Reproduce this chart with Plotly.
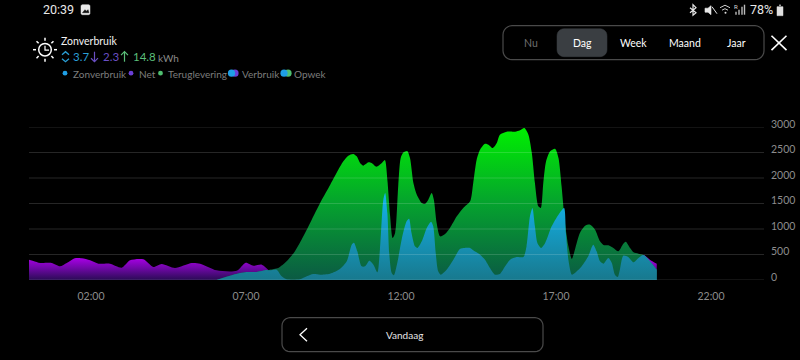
import math
import plotly.graph_objects as go

x_tick_vals = [2, 7, 12, 17, 22]
x_tick_text = ["02:00", "07:00", "12:00", "17:00", "22:00"]
y_tick_vals = [0, 500, 1000, 1500, 2000, 2500, 3000]

net_hours = [0.0, 0.14, 0.36, 0.73, 1.0, 1.22, 1.48, 1.70, 1.97, 2.24, 2.61, 2.99, 3.26, 3.69, 4.01, 4.28, 4.71,
             5.25, 5.52, 6.05, 6.70, 6.99, 7.24, 7.51, 7.77, 8.0, 19.6, 19.7, 19.82, 20.03, 20.25]
net_watts = [399, 373, 333, 333, 268, 333, 425, 425, 386, 320, 320, 242, 386, 405, 255, 314, 235,
             333, 320, 190, 183, 340, 281, 301, 170, 0, 0, 400, 490, 399, 320]

opwek_hours = [6.05, 6.59, 7.02, 7.34, 7.67, 7.77, 8.04, 8.31, 8.58, 8.85, 9.12, 9.39, 9.66, 9.92, 10.14, 10.30, 10.46, 10.57,
               10.68, 10.78, 10.95, 11.05, 11.21, 11.38, 11.48, 11.56, 11.65, 11.73, 11.81, 11.91, 11.99,
               12.08, 12.20, 12.29, 12.40, 12.51, 12.67, 12.77, 12.88, 12.99, 13.06, 13.15, 13.26, 13.42,
               13.58, 13.80, 14.01, 14.23, 14.33, 14.44, 14.55, 14.71, 14.82, 14.96, 15.09, 15.19, 15.41,
               15.68, 15.84, 15.98, 16.11, 16.22, 16.32, 16.43, 16.51, 16.59, 16.68, 16.81, 16.97, 17.08,
               17.18, 17.29, 17.40, 17.51, 17.61, 17.77, 17.94, 18.10, 18.26, 18.42, 18.53, 18.69, 18.85,
               19.01, 19.17, 19.25, 19.39, 19.50, 19.66, 19.82, 20.25]
opwek_watts = [0, 105, 157, 157, 196, 203, 235, 366, 562, 856, 1183, 1510, 1804, 2098, 2327, 2438, 2471, 2425,
               2294, 2242, 2307, 2294, 2222, 2294, 2353, 1967, 1248, 824, 922, 1837, 2392,
               2503, 2529, 2392, 1902, 1673, 1510, 1490, 1575, 1706, 1575, 1118, 856, 902,
               1020, 1248, 1412, 1542, 1902, 2360, 2556, 2673, 2654, 2588, 2686, 2850, 2908,
               2908, 2935, 2980, 2850, 2490, 1902, 1444, 1412, 1902, 2327, 2523, 2575, 2392,
               1837, 1118, 660, 412, 595, 922, 1065, 1085, 987, 758, 686, 680, 627,
               562, 712, 752, 627, 542, 516, 490, 203]

zon_hours = [6.05, 6.59, 7.02, 7.34, 7.67, 7.77, 7.99, 8.15, 8.31, 8.74, 8.96, 9.17, 9.39, 9.71, 10.03, 10.25, 10.41, 10.48,
             10.59, 10.73, 10.84, 10.98, 11.11, 11.24, 11.32, 11.43, 11.49, 11.56, 11.62, 11.70, 11.77, 11.88,
             12.02, 12.18, 12.26, 12.34, 12.45, 12.53, 12.67, 12.83, 12.97, 13.04, 13.12, 13.20, 13.28, 13.47,
             13.69, 13.90, 14.06, 14.23, 14.33, 14.55, 14.71, 14.87, 15.03, 15.19, 15.36, 15.52, 15.73, 15.95,
             16.05, 16.16, 16.24, 16.32, 16.40, 16.52, 16.65, 16.86, 17.08, 17.26, 17.32, 17.40, 17.51, 17.61,
             17.83, 18.04, 18.20, 18.31, 18.42, 18.53, 18.69, 18.80, 18.90, 18.99, 19.06, 19.17, 19.33, 19.50,
             19.66, 19.82, 20.25]
zon_watts = [0, 105, 157, 157, 196, 190, 203, 72, 13, 13, 72, 118, 105, 124, 216, 366, 693, 732,
             562, 268, 268, 379, 301, 150, 595, 1575, 1706, 1314, 529, 137, 92, 333,
             791, 1150, 1203, 922, 660, 627, 758, 1020, 1144, 1052, 529, 170, 105, 203,
             399, 610, 627, 627, 582, 497, 399, 235, 105, 118, 268, 399, 451, 451,
             660, 1248, 1412, 1052, 725, 627, 725, 1052, 1281, 1412, 922, 399, 105, 137,
             268, 464, 693, 562, 366, 320, 431, 333, 105, 59, 203, 477, 451, 346,
             431, 490, 203]

L, R, T, B = 29.0, 764.0, 127.3, 280.3


def px(v):
    return (v - L) / (R - L)


def py(v):
    return (B - v) / (B - T)


def area(xs, ys, stops, start, stop, name):
    return go.Scatter(
        x=xs, y=ys, name=name, mode="lines", hoverinfo="skip", showlegend=False,
        line=dict(shape="spline", smoothing=0.7, width=0, color="rgba(0,0,0,0)"),
        fill="tozeroy",
        fillgradient=dict(type="vertical", colorscale=stops, start=start, stop=stop),
    )


fig = go.Figure()
fig.add_trace(area(net_hours, net_watts,
                   [[0, "#2a0c55"], [0.5, "#6a08a0"], [1, "#a800e6"]], 0, 430, "Net"))
fig.add_trace(area(opwek_hours, opwek_watts,
                   [[0, "#0b5a44"], [0.5, "#05a22e"], [1, "#00f000"]], 0, 3000, "Opwek"))
fig.add_trace(area(zon_hours, zon_watts,
                   [[0, "#18798e"], [1, "#13b4ec"]], 0, 1700, "Zonverbruik"))

shapes = []
anns = []

for tick in y_tick_vals:
    shapes.append(dict(type="line", xref="paper", yref="y", x0=0, x1=1, y0=tick, y1=tick,
                       layer="above", line=dict(color="rgba(255,255,255,0.15)", width=1)))


def text(x, y, s, size=10, color="#ffffff", anchor="left", family="Lato"):
    anns.append(dict(xref="paper", yref="paper", x=px(x), y=py(y), text=s, showarrow=False,
                     xanchor=anchor, yanchor="middle", align=anchor, borderpad=0, xshift=0,
                     font=dict(family=family, size=size, color=color)))


def path(d, color="#ffffff", width=1.5, fill=None):
    shapes.append(dict(type="path", path=d, xref="paper", yref="paper",
                       line=dict(color=color, width=width),
                       fillcolor=fill if fill else "rgba(0,0,0,0)"))


def pts(seq, close=False):
    out = "M " + " L ".join(f"{px(a):.5f} {py(b):.5f}" for a, b in seq)
    return out + (" Z" if close else "")


def circle(cx, cy, r, color, line=None, width=1.0):
    shapes.append(dict(type="circle", xref="paper", yref="paper",
                       x0=px(cx - r), x1=px(cx + r), y0=py(cy + r), y1=py(cy - r),
                       fillcolor=color, line=dict(color=line or color, width=width if line else 0)))


def rrect(x0, y0, x1, y1, r, color, fill=None, width=1.2):
    n = 6
    seq = []
    for cx, cy, a0 in [(x1 - r, y0 + r, -90), (x1 - r, y1 - r, 0), (x0 + r, y1 - r, 90), (x0 + r, y0 + r, 180)]:
        for i in range(n + 1):
            a = math.radians(a0 + 90 * i / n)
            seq.append((cx + r * math.cos(a), cy + r * math.sin(a)))
    path(pts(seq, True), color, width, fill)


# status bar
text(42, 10, "20:39", 12.5, "#e8e8e8", family="Roboto")
rrect(81, 5, 90, 15, 1.5, "#e8e8e8", "#e8e8e8", 0.5)
path(pts([(82.5, 13), (85, 10), (86.5, 11.5), (88, 10), (89, 13)], True), "#111111", 0.5, "#111111")
text(749, 10, "78%", 12.5, "#e8e8e8", family="Roboto")
path(pts([(777, 7), (783, 7), (783, 16), (777, 16)], True), "#e0e0e0", 0.5, "#e0e0e0")
path(pts([(779, 5.5), (781, 5.5)]), "#e0e0e0", 1)
path(pts([(690, 8), (696, 13), (693, 15.5), (693, 5), (696, 8), (690, 13)]), "#e8e8e8", 1.2)
path(pts([(705, 8.5), (708, 8.5), (711, 6), (711, 15), (708, 12.5), (705, 12.5)], True), "#e8e8e8", 0.6, "#e8e8e8")
path(pts([(712, 7), (717, 14)]), "#e8e8e8", 1)
path(pts([(720, 8), (725, 5.5), (730, 8)]), "#cfcfcf", 1)
path(pts([(722, 10.5), (725, 9), (728, 10.5)]), "#cfcfcf", 1)
circle(725.5, 13, 1, "#dddddd")
for bx, h in [(736, 3), (739, 5), (742, 8), (744.5, 10)]:
    path(pts([(bx, 15), (bx, 15 - h)]), "#bbbbbb", 1.4)
text(733, 7, "R", 6, "#dddddd", family="Roboto")

# clock/sun icon
circle(45, 50, 6.3, "rgba(0,0,0,0)", "#ffffff", 1.5)
path(pts([(45, 46), (45, 50.5), (49, 50.5)]), "#ffffff", 1.2)
for deg in [0, 45, 90, 135, 180, 225, 270, 315]:
    a = math.radians(deg)
    path(pts([(45 + 9 * math.cos(a), 50 + 9 * math.sin(a)),
              (45 + 12 * math.cos(a), 50 + 12 * math.sin(a))]), "#ffffff", 1.5)

# header text
text(60, 41.5, "Zonverbruik", 10.5, "#f2f2f2")
path(pts([(62, 55), (65.5, 52), (69, 55)]), "#2a9fd6", 1.3)
path(pts([(62, 59), (65.5, 62), (69, 59)]), "#2a9fd6", 1.3)
text(72, 57, "3.7", 11.5, "#2a9fd6")
path(pts([(94.5, 52), (94.5, 62)]), "#6a4fc4", 1.2)
path(pts([(91, 58.5), (94.5, 62), (98, 58.5)]), "#6a4fc4", 1.2)
text(102, 57, "2.3", 11.5, "#6a4fc4")
path(pts([(124.5, 52), (124.5, 62)]), "#5bbf7a", 1.2)
path(pts([(121, 55.5), (124.5, 52), (128, 55.5)]), "#5bbf7a", 1.2)
text(132, 57, "14.8", 11.5, "#5bbf7a")
text(157, 58, "kWh", 10, "#8a8a8a")

# legend
BLUE, PURPLE, GREEN = "#1f9fe6", "#6a3fd6", "#4fbf70"
circle(65, 73.5, 2.4, BLUE)
text(71.5, 74, "Zonverbruik", 10, "#7d7d7d")
circle(131, 73.5, 2.4, PURPLE)
text(137.5, 74, "Net", 10, "#7d7d7d")
circle(160.5, 73.5, 2.4, GREEN)
text(167, 74, "Teruglevering", 10, "#7d7d7d")
circle(235, 73.5, 3.6, PURPLE)
circle(231.5, 73.5, 3.6, BLUE)
text(240.5, 74, "Verbruik", 10, "#7d7d7d")
circle(288, 73.5, 3.6, GREEN)
circle(284, 73.5, 3.6, BLUE)
text(292.5, 74, "Opwek", 10, "#7d7d7d")

# period switcher
rrect(503, 26, 764, 60, 9, "#4a4a4a")
rrect(557, 29, 607, 57, 7, "#3a3e42", "#3a3e42", 0.5)
text(531, 43, "Nu", 10.5, "#6f6f6f", "center")
text(582, 43, "Dag", 10.5, "#ffffff", "center")
text(633.5, 43, "Week", 10.5, "#ffffff", "center")
text(685, 43, "Maand", 10.5, "#ffffff", "center")
text(736, 43, "Jaar", 10.5, "#ffffff", "center")
path(pts([(771.5, 36), (786.5, 50.5)]), "#ffffff", 1.6)
path(pts([(786.5, 36), (771.5, 50.5)]), "#ffffff", 1.6)

# bottom button
rrect(282, 318, 543, 352, 8, "#4a4a4a")
path(pts([(307, 328.5), (300, 335), (307, 341.5)]), "#ffffff", 1.3)
text(404.5, 335, "Vandaag", 10, "#e6e6e6", "center")

fig.update_layout(
    width=800, height=360, autosize=False,
    margin=dict(l=L, r=800 - R, t=T, b=360 - B, pad=0, autoexpand=False),
    paper_bgcolor="#000000", plot_bgcolor="#000000",
    showlegend=False, shapes=shapes, annotations=anns,
    font=dict(family="Lato", color="#8c8c8c"),
    xaxis=dict(range=[0, (R - L) / 31.0], tickmode="array", tickvals=x_tick_vals, ticktext=x_tick_text,
               showgrid=False, zeroline=False, showline=False, ticks="", ticklen=0, automargin=False,
               ticklabelstandoff=8,
               tickfont=dict(family="Lato", size=10.5, color="#8c8c8c")),
    yaxis=dict(range=[0, 3000], side="right", tickmode="array", tickvals=y_tick_vals,
               showgrid=False, zeroline=False,
               showline=False, ticks="", ticklabelshift=-3, ticklabelstandoff=6, automargin=False,
               tickfont=dict(family="Lato", size=10.5, color="#8c8c8c")),
)
fig.write_html("out.html", config=dict(displayModeBar=False),
               post_script="document.documentElement.style.background='#000';document.body.style.margin='0';document.body.style.overflow='hidden';")
